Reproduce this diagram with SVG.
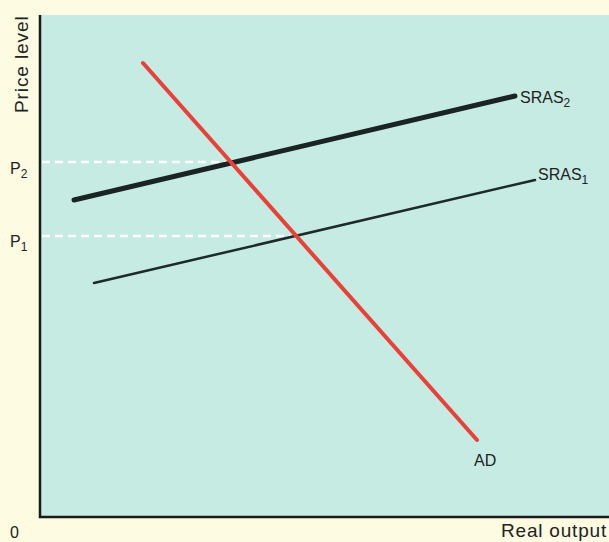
<svg xmlns="http://www.w3.org/2000/svg" width="609" height="542" viewBox="0 0 609 542">
<style>
text{font-family:"Liberation Sans",Arial,sans-serif;fill:#222}
.axis{stroke:#1a1a1a;stroke-width:2.5;fill:none}
.dash{stroke:#ffffff;stroke-width:2.5;stroke-dasharray:8,5;fill:none}
</style>
<rect width="609" height="542" fill="#fdfbe2"/>
<rect x="40" y="15" width="569" height="502" fill="#c6ebe2"/>
<g id="axes">
<path class="axis" d="M40,15 V517 H609"/>
</g>
<g id="guides">
<line class="dash" x1="42" y1="162" x2="228" y2="162"/>
<line class="dash" x1="42" y1="236" x2="290" y2="236"/>
</g>
<g id="connectors">
<line id="sras1" x1="94" y1="283" x2="535" y2="180" stroke="#1c2a28" stroke-width="2.5" stroke-linecap="round"/>
<line id="sras2" x1="74" y1="200" x2="515" y2="96" stroke="#1a2422" stroke-width="5" stroke-linecap="round"/>
<line id="ad" x1="143" y1="63" x2="477" y2="440" stroke="#e8413a" stroke-width="4" stroke-linecap="round"/>
</g>
<g id="labels">
<text transform="translate(28,113) rotate(-90)" font-size="19" letter-spacing="0.9">Price level</text>
<text x="10" y="174" font-size="16">P<tspan font-size="12" dy="4">2</tspan></text>
<text x="10" y="247" font-size="16">P<tspan font-size="12" dy="4">1</tspan></text>
<text x="520" y="103" font-size="16">SRAS<tspan font-size="12" dy="4">2</tspan></text>
<text x="538" y="180" font-size="16">SRAS<tspan font-size="12" dy="4">1</tspan></text>
<text x="474" y="466" font-size="16">AD</text>
<text x="10" y="538" font-size="16">0</text>
<text x="607" y="537" text-anchor="end" font-size="19" letter-spacing="0.8">Real output</text>
</g>
</svg>
